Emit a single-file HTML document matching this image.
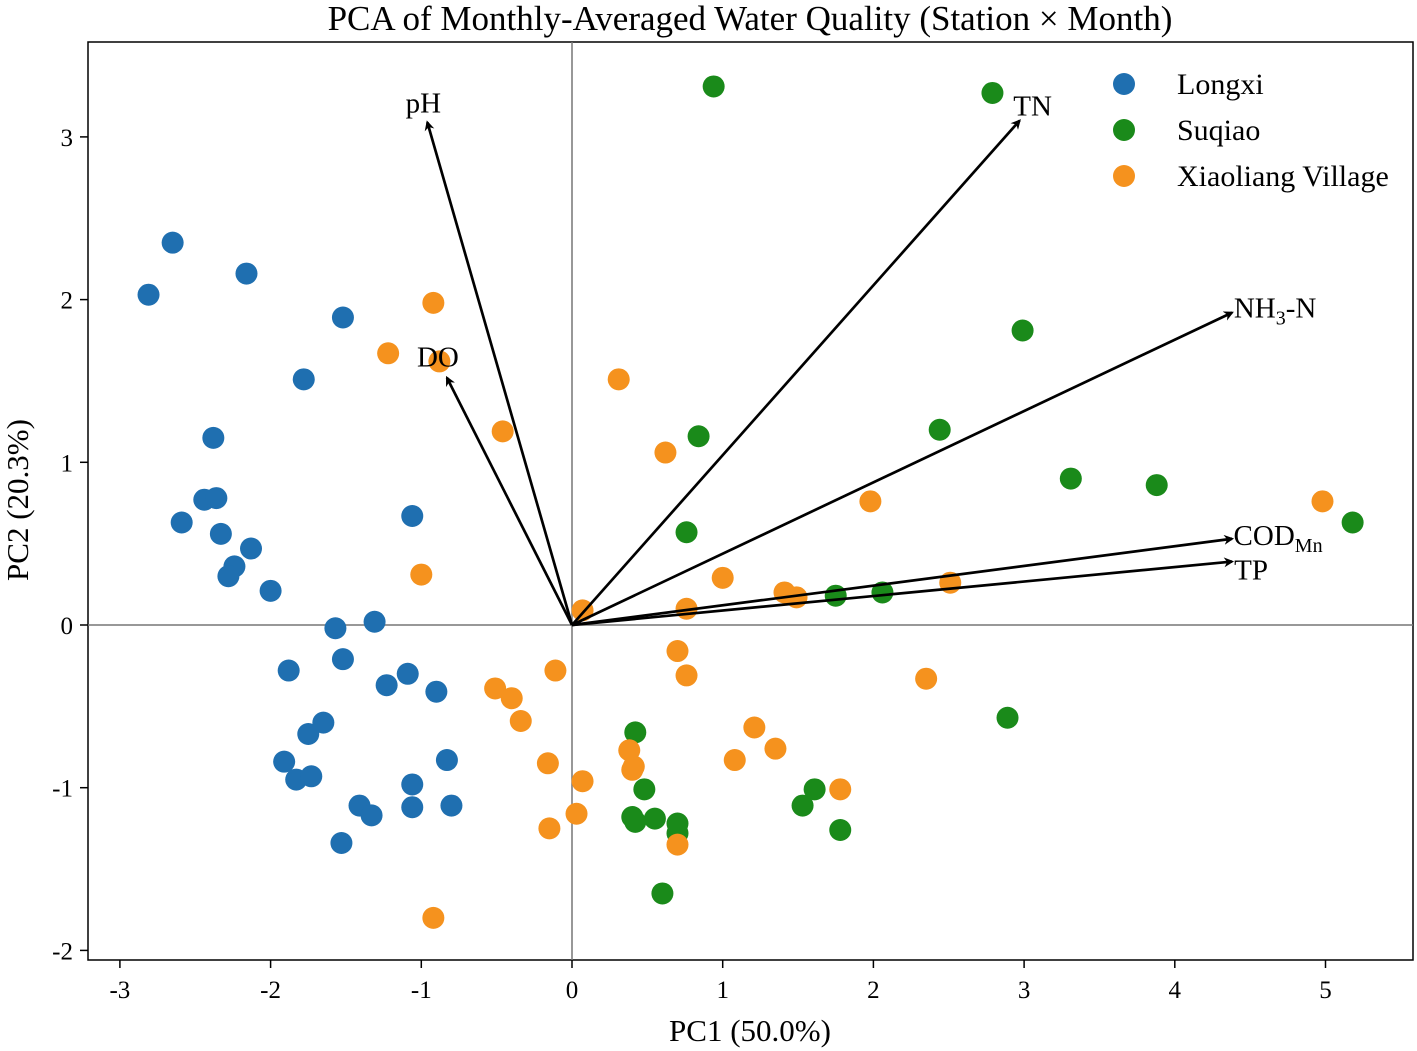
<!DOCTYPE html>
<html><head><meta charset="utf-8"><style>
body{margin:0;background:#fff}
svg{display:block;font-family:"Liberation Serif",serif}
</style></head><body>
<svg id="chart" width="1417" height="1051" viewBox="0 0 1417 1051" xmlns="http://www.w3.org/2000/svg">
<defs><marker id="ah" markerWidth="10" markerHeight="10" refX="8" refY="5" orient="auto" markerUnits="userSpaceOnUse"><path d="M0,0 L10,5 L0,10 L3,5 z" fill="#000"/></marker></defs>
<text x="750" y="30" font-size="35" text-anchor="middle">PCA of Monthly-Averaged Water Quality (Station × Month)</text>
<rect x="88" y="42" width="1325" height="918" fill="none" stroke="#000" stroke-width="1.5"/>
<g id="axes"></g><g id="points"></g><g id="arrows"></g>
<text x="750" y="1041" font-size="31" text-anchor="middle">PC1 (50.0%)</text>
<text transform="translate(28,500) rotate(-90)" font-size="31" text-anchor="middle">PC2 (20.3%)</text>
<g id="legend"></g>
</svg>
<script>
const xTicks=[-3,-2,-1,0,1,2,3,4,5];
const yTicks=[-2,-1,0,1,2,3];
const longxiX=[-2.65,-2.81,-2.16,-1.52,-1.78,-2.38,-2.44,-2.36,-2.59,-2.33,-2.13,-2.24,-2.28,-2.00,-1.06,-1.57,-1.31,-1.52,-1.88,-1.23,-1.09,-0.90,-1.65,-1.75,-1.91,-1.83,-1.73,-0.83,-1.06,-1.41,-1.33,-1.06,-0.80,-1.53];
const longxiY=[2.35,2.03,2.16,1.89,1.51,1.15,0.77,0.78,0.63,0.56,0.47,0.36,0.30,0.21,0.67,-0.02,0.02,-0.21,-0.28,-0.37,-0.30,-0.41,-0.60,-0.67,-0.84,-0.95,-0.93,-0.83,-0.98,-1.11,-1.17,-1.12,-1.11,-1.34];
const suqiaoX=[0.94,2.79,2.99,0.84,2.44,3.31,3.88,5.18,0.76,1.75,2.06,2.89,0.42,0.48,0.40,0.42,0.55,0.70,0.70,1.61,1.53,1.78,0.60];
const suqiaoY=[3.31,3.27,1.81,1.16,1.20,0.90,0.86,0.63,0.57,0.18,0.20,-0.57,-0.66,-1.01,-1.18,-1.21,-1.19,-1.22,-1.28,-1.01,-1.11,-1.26,-1.65];
const xiaoX=[-0.92,-1.22,-0.88,0.31,-0.46,0.62,1.98,4.98,-1.00,1.00,0.07,0.76,1.41,1.49,2.51,0.70,0.76,-0.11,-0.51,-0.40,-0.34,2.35,1.21,1.35,1.08,0.38,0.41,0.40,-0.16,0.07,1.78,0.03,-0.15,0.70,-0.92];
const xiaoY=[1.98,1.67,1.62,1.51,1.19,1.06,0.76,0.76,0.31,0.29,0.09,0.10,0.20,0.17,0.26,-0.16,-0.31,-0.28,-0.39,-0.45,-0.59,-0.33,-0.63,-0.76,-0.83,-0.77,-0.87,-0.89,-0.85,-0.96,-1.01,-1.16,-1.25,-1.35,-1.80];
const loadNames=["pH","DO","TN","NH3-N","CODMn","TP"];
const loadX=[-0.96,-0.83,2.97,4.38,4.38,4.38];
const loadY=[3.09,1.52,3.10,1.92,0.53,0.39];
const seriesNames=["Longxi","Suqiao","Xiaoliang Village"];
const seriesColors=["#1f6fb0","#1a8a1a","#f5921e"];

const sx=v=>572+150.7*v, sy=v=>625-162.7*v;
const NS="http://www.w3.org/2000/svg";
function mk(tag,attrs,parent,text){const e=document.createElementNS(NS,tag);for(const k in attrs)e.setAttribute(k,attrs[k]);if(text!==undefined)e.textContent=text;parent.appendChild(e);return e;}
const axes=document.getElementById('axes');
mk('line',{x1:88,x2:1413,y1:sy(0),y2:sy(0),stroke:'#777','stroke-width':1.5},axes);
mk('line',{x1:sx(0),x2:sx(0),y1:42,y2:960,stroke:'#777','stroke-width':1.5},axes);
xTicks.forEach(t=>{
 const l=mk('line',{x1:sx(t),x2:sx(t),y1:960,y2:968,stroke:'#000','stroke-width':1.5},axes);
 
 
 const tx=mk('text',{x:sx(t),y:998,'font-size':25,'text-anchor':'middle'},axes,String(t));
 
 
});
yTicks.forEach(t=>{
 const l=mk('line',{x1:80,x2:88,y1:sy(t),y2:sy(t),stroke:'#000','stroke-width':1.5},axes);
 
 
 const tx=mk('text',{x:73,y:sy(t)+9,'font-size':25,'text-anchor':'end'},axes,String(t));
 
 
});
const pts=document.getElementById('points');
[[longxiX,longxiY],[suqiaoX,suqiaoY],[xiaoX,xiaoY]].forEach((s,i)=>{
 s[0].forEach((x,j)=>{
  const c=mk('circle',{cx:sx(x),cy:sy(s[1][j]),r:11,fill:seriesColors[i]},pts);
  
  
 });
});
const arr=document.getElementById('arrows');
const lblOff=[[-4,-20],[-9,-21],[13,-15],[43,-5],[46,-4],[19,8]];
loadNames.forEach((n,i)=>{
 const l=mk('line',{x1:sx(0),y1:sy(0),x2:sx(loadX[i]),y2:sy(loadY[i]),stroke:'#000','stroke-width':2.7,'marker-end':'url(#ah)'},arr);
 
 
 const t=mk('text',{x:sx(loadX[i])+lblOff[i][0],y:sy(loadY[i])+lblOff[i][1]+10,'font-size':29,'text-anchor':'middle'},arr);
 
 
 if(n==="NH3-N"){t.innerHTML='NH<tspan font-size="20" dy="7">3</tspan><tspan dy="-7">-N</tspan>';}
 else if(n==="CODMn"){t.innerHTML='COD<tspan font-size="20" dy="7">Mn</tspan>';}
 else t.textContent=n;
});
const lg=document.getElementById('legend');
seriesNames.forEach((n,i)=>{
 const c=mk('circle',{cx:1124,cy:84+46*i,r:11,fill:seriesColors[i]},lg);
 
 
 const t=mk('text',{x:1177,y:94+46*i,'font-size':30},lg,n);
 
 
});
</script>
</body></html>
